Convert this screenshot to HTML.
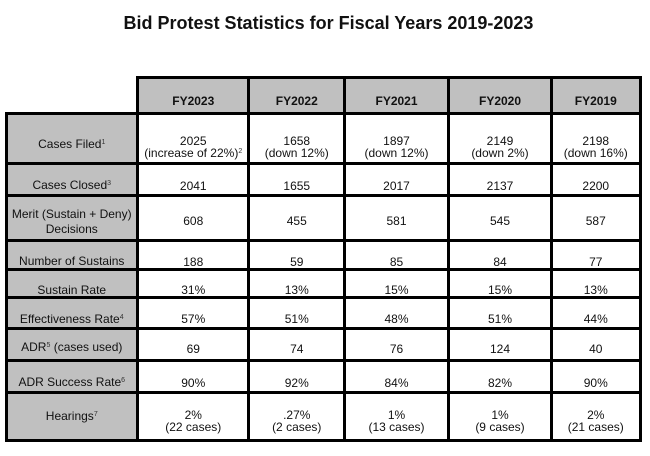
<!DOCTYPE html>
<html><head><meta charset="utf-8">
<style>
html,body{margin:0;padding:0;background:#fff;}
#c{position:relative;width:650px;height:456px;overflow:hidden;background:#fff;font-family:"Liberation Sans",Arial,sans-serif;color:#111;}
.g{position:absolute;background:#c0c0c0;}
.h{position:absolute;background:#000;height:3px;}
.v{position:absolute;background:#000;width:3px;}
.t{position:absolute;font-size:12px;line-height:12px;text-align:center;white-space:nowrap;}
.b{font-weight:bold;}
.s{font-size:7px;position:relative;top:-4px;line-height:0;color:#333;}
.c0{left:6px;width:131.5px}
.c1{left:137.5px;width:111.5px}
.c2{left:249px;width:95.5px}
.c3{left:344.5px;width:104px}
.c4{left:448.5px;width:103px}
.c5{left:551.5px;width:88.5px}
#title{position:absolute;left:28.5px;width:600px;top:14px;font-size:18px;line-height:18px;font-weight:bold;text-align:center;white-space:nowrap;color:#111;}
</style></head>
<body>
<div id="c">
<div id="title">Bid Protest Statistics for Fiscal Years 2019-2023</div>

<!-- gray fills -->
<div class="g" style="left:137.5px;top:77px;width:502.5px;height:36px;"></div>
<div class="g" style="left:6px;top:113px;width:131.5px;height:327px;"></div>

<!-- horizontal lines -->
<div class="h" style="left:136px;width:505.5px;top:75.5px;"></div>
<div class="h" style="left:4.8px;width:636.7px;top:111.5px;"></div>
<div class="h" style="left:4.8px;width:636.7px;top:162px;"></div>
<div class="h" style="left:4.8px;width:636.7px;top:194px;"></div>
<div class="h" style="left:4.8px;width:636.7px;top:238.5px;"></div>
<div class="h" style="left:4.8px;width:636.7px;top:267.5px;"></div>
<div class="h" style="left:4.8px;width:636.7px;top:296px;"></div>
<div class="h" style="left:4.8px;width:636.7px;top:327.3px;"></div>
<div class="h" style="left:4.8px;width:636.7px;top:359px;"></div>
<div class="h" style="left:4.8px;width:636.7px;top:390.5px;"></div>
<div class="h" style="left:4.8px;width:636.7px;top:438.8px;"></div>

<!-- vertical lines -->
<div class="v" style="left:4.8px;top:111.5px;height:330.3px;"></div>
<div class="v" style="left:136px;top:75.5px;height:366.3px;"></div>
<div class="v" style="left:247.3px;top:75.5px;height:366.3px;"></div>
<div class="v" style="left:343px;top:75.5px;height:366.3px;"></div>
<div class="v" style="left:447px;top:75.5px;height:366.3px;"></div>
<div class="v" style="left:550px;top:75.5px;height:366.3px;"></div>
<div class="v" style="left:638.5px;top:75.5px;height:366.3px;"></div>

<!-- header -->
<div class="t b c1" style="top:94.8px;">FY2023</div>
<div class="t b c2" style="top:94.8px;">FY2022</div>
<div class="t b c3" style="top:94.8px;">FY2021</div>
<div class="t b c4" style="top:94.8px;">FY2020</div>
<div class="t b c5" style="top:94.8px;">FY2019</div>

<!-- row 1 -->
<div class="t c0" style="top:138.3px;">Cases Filed<span class="s">1</span></div>
<div class="t c1" style="top:135.1px;">2025<br>(increase of 22%)<span class="s">2</span></div>
<div class="t c2" style="top:135.1px;">1658<br>(down 12%)</div>
<div class="t c3" style="top:135.1px;">1897<br>(down 12%)</div>
<div class="t c4" style="top:135.1px;">2149<br>(down 2%)</div>
<div class="t c5" style="top:135.1px;">2198<br>(down 16%)</div>

<!-- row 2 -->
<div class="t c0" style="top:179.3px;">Cases Closed<span class="s">3</span></div>
<div class="t c1" style="top:179.8px;">2041</div>
<div class="t c2" style="top:179.8px;">1655</div>
<div class="t c3" style="top:179.8px;">2017</div>
<div class="t c4" style="top:179.8px;">2137</div>
<div class="t c5" style="top:179.8px;">2200</div>

<!-- row 3 -->
<div class="t c0" style="top:207.8px;">Merit (Sustain + Deny)</div>
<div class="t c0" style="top:222.5px;">Decisions</div>
<div class="t c1" style="top:215.3px;">608</div>
<div class="t c2" style="top:215.3px;">455</div>
<div class="t c3" style="top:215.3px;">581</div>
<div class="t c4" style="top:215.3px;">545</div>
<div class="t c5" style="top:215.3px;">587</div>

<!-- row 4 -->
<div class="t c0" style="top:255.3px;">Number of Sustains</div>
<div class="t c1" style="top:255.5px;">188</div>
<div class="t c2" style="top:255.5px;">59</div>
<div class="t c3" style="top:255.5px;">85</div>
<div class="t c4" style="top:255.5px;">84</div>
<div class="t c5" style="top:255.5px;">77</div>

<!-- row 5 -->
<div class="t c0" style="top:283.8px;">Sustain Rate</div>
<div class="t c1" style="top:284px;">31%</div>
<div class="t c2" style="top:284px;">13%</div>
<div class="t c3" style="top:284px;">15%</div>
<div class="t c4" style="top:284px;">15%</div>
<div class="t c5" style="top:284px;">13%</div>

<!-- row 6 -->
<div class="t c0" style="top:312.6px;">Effectiveness Rate<span class="s">4</span></div>
<div class="t c1" style="top:313px;">57%</div>
<div class="t c2" style="top:313px;">51%</div>
<div class="t c3" style="top:313px;">48%</div>
<div class="t c4" style="top:313px;">51%</div>
<div class="t c5" style="top:313px;">44%</div>

<!-- row 7 -->
<div class="t c0" style="top:341.3px;">ADR<span class="s">5</span> (cases used)</div>
<div class="t c1" style="top:343.3px;">69</div>
<div class="t c2" style="top:343.3px;">74</div>
<div class="t c3" style="top:343.3px;">76</div>
<div class="t c4" style="top:343.3px;">124</div>
<div class="t c5" style="top:343.3px;">40</div>

<!-- row 8 -->
<div class="t c0" style="top:376.3px;">ADR Success Rate<span class="s">6</span></div>
<div class="t c1" style="top:377.3px;">90%</div>
<div class="t c2" style="top:377.3px;">92%</div>
<div class="t c3" style="top:377.3px;">84%</div>
<div class="t c4" style="top:377.3px;">82%</div>
<div class="t c5" style="top:377.3px;">90%</div>

<!-- row 9 -->
<div class="t c0" style="top:409.8px;">Hearings<span class="s">7</span></div>
<div class="t c1" style="top:409.3px;">2%<br>(22 cases)</div>
<div class="t c2" style="top:409.3px;">.27%<br>(2 cases)</div>
<div class="t c3" style="top:409.3px;">1%<br>(13 cases)</div>
<div class="t c4" style="top:409.3px;">1%<br>(9 cases)</div>
<div class="t c5" style="top:409.3px;">2%<br>(21 cases)</div>
</div>
</body></html>
